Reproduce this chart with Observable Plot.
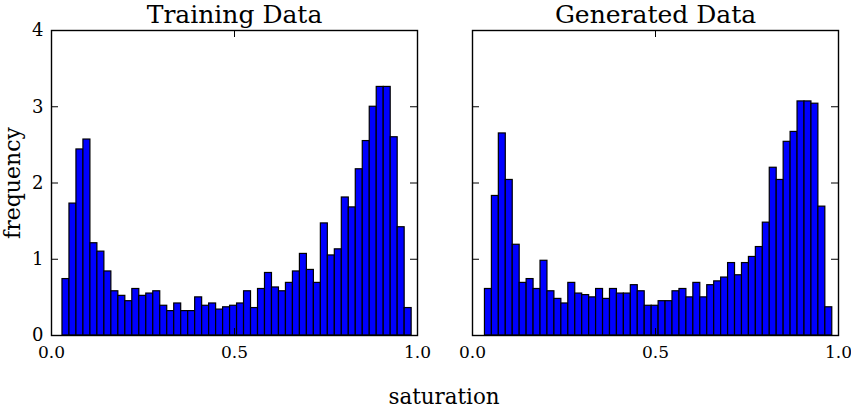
<!DOCTYPE html>
<html>
<head>
<meta charset="utf-8">
<script src="https://cdn.jsdelivr.net/npm/d3@7"></script>
<script src="https://cdn.jsdelivr.net/npm/@observablehq/plot@0.6"></script>
<style>
  html, body { margin: 0; padding: 0; background: #fff; }
  #wrap { width: 851px; font-family: "DejaVu Serif", serif; }
  #xlabel { width: 814px; padding-left: 37px; text-align: center; font-size: 21.4px; line-height: 20px; color: #000; }
</style>
</head>
<body>
<div id="wrap">
  <div id="chart"></div>
  <div id="xlabel">saturation</div>
</div>
<script>
const panels = ["Training Data", "Generated Data"];

// histogram bin layout (50 bins each)
const trainingBinStart = 0.030;
const trainingBinWidth = 0.01908;
const generatedBinStart = 0.034;
const generatedBinWidth = 0.01898;

const trainingFreq = [0.74, 1.73, 2.44, 2.57, 1.21, 1.10, 0.84, 0.58, 0.52, 0.45,
  0.61, 0.52, 0.55, 0.58, 0.39, 0.32, 0.42, 0.32, 0.32, 0.50,
  0.39, 0.42, 0.34, 0.37, 0.39, 0.42, 0.58, 0.36, 0.61, 0.82,
  0.63, 0.58, 0.69, 0.84, 1.07, 0.86, 0.69, 1.47, 1.05, 1.13,
  1.81, 1.68, 2.18, 2.55, 3.00, 3.26, 3.26, 2.60, 1.42, 0.36];

const generatedFreq = [0.61, 1.83, 2.65, 2.04, 1.19, 0.69, 0.74, 0.61, 0.98, 0.58,
  0.48, 0.42, 0.69, 0.55, 0.53, 0.50, 0.61, 0.48, 0.61, 0.55,
  0.55, 0.66, 0.58, 0.39, 0.39, 0.45, 0.45, 0.58, 0.61, 0.50,
  0.69, 0.50, 0.66, 0.71, 0.76, 0.95, 0.79, 0.95, 1.03, 1.16,
  1.48, 2.20, 2.04, 2.54, 2.67, 3.07, 3.07, 3.04, 1.69, 0.37];

const xTicks = [0, 0.5, 1];
const yTicks = [0, 1, 2, 3, 4];

const bins = [];
trainingFreq.forEach((v, i) => bins.push({panel: panels[0], x1: trainingBinStart + i * trainingBinWidth, x2: trainingBinStart + (i + 1) * trainingBinWidth, v}));
generatedFreq.forEach((v, i) => bins.push({panel: panels[1], x1: generatedBinStart + i * generatedBinWidth, x2: generatedBinStart + (i + 1) * generatedBinWidth, v}));

const W = 851, H = 387, mL = 51, mR = 13, mT = 30, mB = 52;
const gap = 55;
const panelW = (W - mL - mR - gap) / 2;
const panelH = H - mT - mB;
const tick = 7;

const chart = Plot.plot({
  width: W,
  height: H,
  marginLeft: mL,
  marginRight: mR,
  marginTop: mT,
  marginBottom: mB,
  style: {fontFamily: "DejaVu Serif", background: "white", color: "black", overflow: "visible"},
  fx: {domain: panels, paddingInner: gap / (panelW + gap), paddingOuter: 0, round: false},
  x: {domain: [0, 1]},
  y: {domain: [0, 4]},
  marks: [
    Plot.rectY(bins, {x1: "x1", x2: "x2", y: "v", fx: "panel", fill: "#0000ff", stroke: "black", strokeWidth: 1.2}),
    Plot.frame({stroke: "black", strokeWidth: 1.4}),
    Plot.ruleY(yTicks, {y: d => d, insetRight: panelW - tick, stroke: "black", strokeWidth: 1}),
    Plot.ruleY(yTicks, {y: d => d, insetLeft: panelW - tick, stroke: "black", strokeWidth: 1}),
    Plot.ruleX(xTicks, {x: d => d, insetBottom: panelH - tick, stroke: "black", strokeWidth: 1}),
    Plot.ruleX(xTicks, {x: d => d, insetTop: panelH - tick, stroke: "black", strokeWidth: 1}),
    Plot.axisFx({anchor: "top", tickSize: 0, tickPadding: 8, fontSize: 25, label: null}),
    Plot.axisX({ticks: xTicks, tickFormat: d3.format(".1f"), tickSize: 0, tickPadding: 10, fontSize: 17, label: null}),
    Plot.axisY({ticks: yTicks, tickFormat: d => String(d), tickSize: 0, tickPadding: 8, fontSize: 18,
      label: "frequency", labelAnchor: "center", labelArrow: "none", labelOffset: 47})
  ]
});
chart.querySelectorAll("[aria-label='y-axis label'] text, [aria-label='y-axis label']").forEach(e => e.setAttribute("font-size", 22));
document.getElementById("chart").appendChild(chart);
</script>
</body>
</html>
